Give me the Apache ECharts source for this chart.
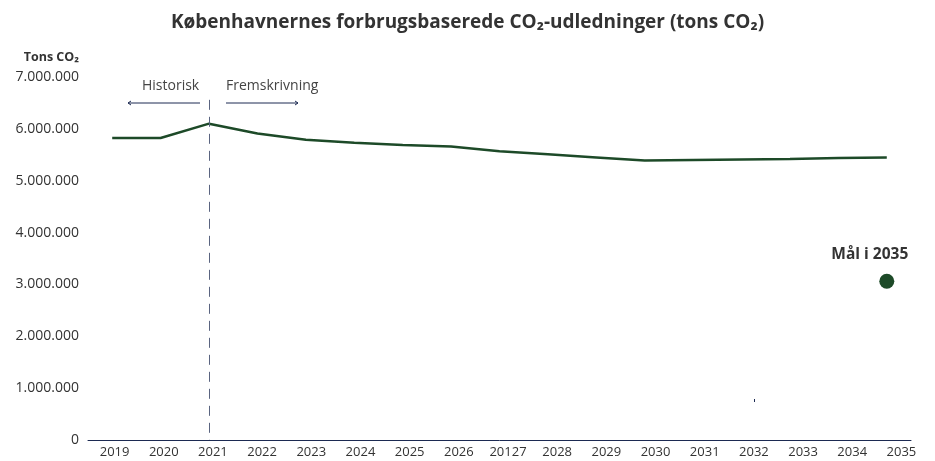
<!DOCTYPE html>
<html>
<head>
<meta charset="utf-8">
<script src="https://cdn.jsdelivr.net/npm/echarts@6/dist/echarts.min.js"></script>
<style>
  html, body { margin: 0; padding: 0; background: #fff; }
  #chart { width: 935px; height: 461px; }
</style>
</head>
<body>
<div id="chart"></div>
<script>
// x-axis labels as printed (incl. the "20127" typo of the source)
var years = ['2019', '2020', '2021', '2022', '2023', '2024', '2025', '2026', '20127',
  '2028', '2029', '2030', '2031', '2032', '2033', '2034', '2035']
// tons CO2
var emissions = [5823000, 5823000, 6100000, 5910000, 5790000, 5730000, 5690000, 5660000,
  5570000, 5510000, 5450000, 5390000, 5400000, 5410000, 5420000, 5440000, 5450000]
var goal2035 = 3060000
var yTicks = [0, 1000000, 2000000, 3000000, 4000000, 5000000, 6000000, 7000000]

var green = '#1d4a28'
var navy = '#1c2a52'
var txt = '#333333'
var font = 'Open Sans'

function fmt(v) {
  return String(v).replace(/\B(?=(\d{3})+(?!\d))/g, '.')
}

var chart = echarts.init(document.getElementById('chart'))

chart.setOption({
  animation: false,
  textStyle: { fontFamily: font },
  title: {
    text: 'Københavnernes forbrugsbaserede CO₂-udledninger (tons CO₂)',
    left: 'center',
    top: 8,
    textStyle: { fontSize: 19, fontWeight: 'bold', color: txt, fontFamily: font }
  },
  grid: [
    { left: 88, right: 24, top: 77, bottom: 21 },
    { left: 90, right: 9, top: 77, bottom: 21 }
  ],
  xAxis: [
    {
      type: 'category',
      gridIndex: 0,
      data: years,
      axisLine: { lineStyle: { color: navy, width: 1 } },
      axisTick: { show: false },
      axisLabel: { show: false }
    },
    {
      // labels only, they sit a little off the data positions in the original
      type: 'category',
      gridIndex: 1,
      data: years,
      axisLine: { show: false },
      axisTick: { show: false },
      axisLabel: { color: txt, fontSize: 13, margin: 6, fontFamily: font }
    }
  ],
  yAxis: [
    {
      type: 'value',
      gridIndex: 0,
      min: yTicks[0],
      max: yTicks[yTicks.length - 1],
      interval: yTicks[1] - yTicks[0],
      name: 'Tons CO₂',
      nameLocation: 'end',
      nameGap: 13,
      nameTextStyle: { color: txt, fontSize: 12.5, fontWeight: 'bold', align: 'right', padding: [0, 9, 0, 0] },
      splitLine: { show: false },
      axisLine: { show: false },
      axisTick: { show: false },
      axisLabel: { color: txt, fontSize: 14, margin: 9, formatter: fmt }
    },
    { type: 'value', gridIndex: 1, show: false, min: 0, max: 1 }
  ],
  series: [
    {
      name: 'Udledning',
      type: 'line',
      xAxisIndex: 0,
      yAxisIndex: 0,
      data: emissions,
      symbol: 'none',
      lineStyle: { color: green, width: 2.5 },
      markLine: {
        silent: true,
        symbol: 'none',
        label: { show: false },
        lineStyle: { color: '#5a6480', type: [10, 7], width: 1 },
        data: [[{ coord: ['2021', 6560000] }, { coord: ['2021', 0] }]]
      }
    },
    {
      name: 'Mål i 2035',
      type: 'scatter',
      xAxisIndex: 0,
      yAxisIndex: 0,
      data: [['2035', goal2035]],
      symbolSize: 15,
      itemStyle: { color: green, opacity: 1 },
      label: {
        show: true,
        position: 'top',
        distance: 11,
        formatter: 'Mål i 2035',
        color: txt,
        fontSize: 15.5,
        fontWeight: 'bold',
        offset: [-17, 0]
      }
    }
  ],
  graphic: [
    { type: 'text', left: 142, top: 79, style: { text: 'Historisk', fill: '#444', font: '14px "Open Sans"' } },
    { type: 'text', left: 226, top: 79, style: { text: 'Fremskrivning', fill: '#444', font: '14px "Open Sans"' } },
    { type: 'line', shape: { x1: 128, y1: 103, x2: 200, y2: 103 }, style: { stroke: navy, lineWidth: 1 } },
    { type: 'polyline', shape: { points: [[131, 101], [128, 103], [131, 105]] }, style: { stroke: navy, lineWidth: 1, fill: null } },
    { type: 'line', shape: { x1: 226, y1: 103, x2: 298, y2: 103 }, style: { stroke: navy, lineWidth: 1 } },
    { type: 'polyline', shape: { points: [[295, 101], [298, 103], [295, 105]] }, style: { stroke: navy, lineWidth: 1, fill: null } },
    { type: 'rect', shape: { x: 754, y: 399, width: 1, height: 3 }, style: { fill: navy } }
  ]
})
</script>
</body>
</html>
